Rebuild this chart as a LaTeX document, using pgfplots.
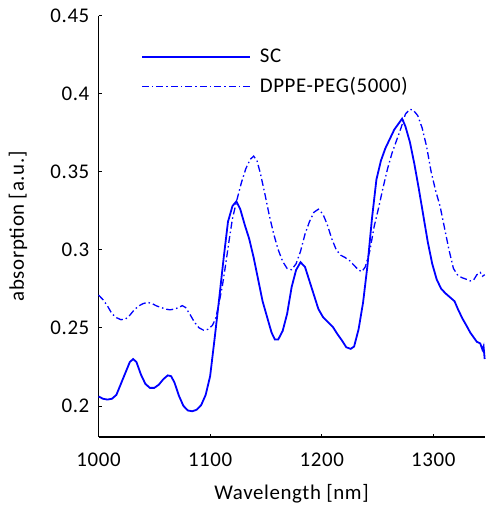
\documentclass[border=0pt]{standalone}
\usepackage{pgfplots}
\pgfplotsset{compat=1.18}
\usepackage{fontspec}
\setmainfont{Carlito}[LetterSpace=3]
\begin{document}
\fontsize{21}{25}\selectfont
\begin{tikzpicture}
\begin{axis}[
  scale only axis, width=386.4bp, height=421.6bp,
  xmin=1000, xmax=1346, ymin=0.18, ymax=0.45,
  axis x line=bottom, axis y line=left,
  axis line style={-, line width=1.3bp},
  xtick={1000,1100,1200,1300},
  ytick={0.2,0.25,0.3,0.35,0.4,0.45},
  yticklabels={0.2,0.25,0.3,0.35,0.4,0.45},
  tick style={black, line width=0.6bp}, major tick length=3bp, tick align=inside,
  /pgf/number format/assume math mode=true,
  /pgf/number format/1000 sep={},
  ticklabel style={font=\fontsize{21}{25}\selectfont},
  xticklabel style={yshift=-9bp},
  yticklabel style={xshift=-2bp},
  label style={font=\fontsize{21}{25}\selectfont},
  xlabel={Wavelength [nm]}, ylabel={absorption [a.u.]},
  xlabel style={at={(axis description cs:0.5,-0.1345)}, anchor=center},
  ylabel style={at={(axis description cs:-0.2086,0.5)}, anchor=center},
  legend style={at={(0.102,0.932)}, anchor=north west, draw=none, fill=none, font=\fontsize{21}{25}\selectfont, row sep=8bp, nodes={inner xsep=9bp}},
  legend cell align=left,
  legend image code/.code={\draw[#1] (0bp,0bp) -- (108bp,0bp);},
  clip=false,
]
\addplot[blue, line width=1.8bp] coordinates {
(1000,0.206)(1004,0.2045)(1008,0.2040)(1012,0.2045)(1016,0.207)(1020,0.214)(1024,0.221)(1028,0.228)(1031,0.230)(1034,0.228)(1038,0.220)(1042,0.214)(1046,0.2115)(1050,0.2115)(1054,0.2135)(1058,0.217)(1062,0.2195)(1065,0.219)(1068,0.215)(1072,0.2065)(1076,0.200)(1080,0.1970)(1084,0.1965)(1088,0.1975)(1092,0.2005)(1096,0.207)(1100,0.219)(1104,0.243)(1108,0.268)(1112,0.294)(1116,0.318)(1120,0.328)(1123.5,0.331)(1127,0.326)(1131,0.316)(1135,0.307)(1139,0.295)(1143,0.281)(1147,0.267)(1151,0.257)(1155,0.247)(1158,0.2425)(1161,0.2425)(1165,0.248)(1169,0.259)(1173,0.276)(1177,0.287)(1181,0.292)(1185,0.289)(1189,0.280)(1193,0.271)(1197,0.262)(1201,0.257)(1205,0.254)(1210,0.2505)(1214,0.246)(1218,0.242)(1222,0.2375)(1226,0.2365)(1229,0.238)(1233,0.249)(1237,0.266)(1241,0.290)(1245,0.320)(1249,0.345)(1253,0.357)(1257,0.365)(1261,0.371)(1265,0.377)(1269,0.381)(1272,0.384)(1275,0.379)(1279,0.369)(1283,0.355)(1287,0.339)(1291,0.322)(1295,0.305)(1299,0.291)(1303,0.281)(1307,0.275)(1311,0.272)(1315,0.2695)(1319,0.267)(1322,0.262)(1326,0.256)(1330,0.251)(1333,0.247)(1336,0.244)(1339,0.241)(1342,0.240)(1344,0.236)(1345,0.238)(1346,0.230)
};
\addlegendentry{SC}
\addplot[blue, line width=1.3bp, dash pattern=on 7bp off 3bp on 1.5bp off 3bp] coordinates {
(1000,0.271)(1004,0.268)(1008,0.264)(1012,0.259)(1016,0.2565)(1020,0.2552)(1024,0.2555)(1028,0.258)(1032,0.2615)(1036,0.264)(1040,0.2655)(1044,0.2663)(1048,0.2655)(1052,0.264)(1056,0.263)(1060,0.262)(1064,0.2615)(1068,0.262)(1072,0.263)(1075,0.2642)(1078,0.263)(1082,0.2585)(1086,0.2535)(1090,0.250)(1094,0.2485)(1098,0.249)(1102,0.2515)(1105,0.256)(1108,0.266)(1111,0.277)(1114,0.291)(1117,0.306)(1120,0.320)(1124,0.332)(1128,0.343)(1132,0.352)(1136,0.358)(1139,0.360)(1142,0.357)(1145,0.349)(1149,0.336)(1153,0.322)(1157,0.310)(1161,0.300)(1165,0.2925)(1169,0.288)(1173,0.2872)(1177,0.291)(1181,0.299)(1185,0.310)(1189,0.318)(1193,0.324)(1197,0.326)(1201,0.323)(1205,0.316)(1209,0.307)(1213,0.300)(1217,0.2965)(1221,0.295)(1225,0.293)(1229,0.290)(1233,0.287)(1236,0.286)(1239,0.289)(1243,0.299)(1247,0.315)(1251,0.327)(1255,0.340)(1259,0.352)(1263,0.362)(1267,0.370)(1271,0.378)(1275,0.387)(1279,0.390)(1282,0.3895)(1286,0.386)(1290,0.378)(1294,0.366)(1298,0.350)(1302,0.338)(1306,0.328)(1310,0.314)(1314,0.300)(1318,0.288)(1322,0.2835)(1326,0.282)(1330,0.281)(1333,0.280)(1336,0.2805)(1339,0.284)(1342,0.2855)(1344,0.283)(1346,0.284)
};
\addlegendentry{DPPE-PEG(5000)}
\end{axis}
\path (current axis.south west) ++(-98.6bp,-72.7bp) coordinate (bbsw);
\path (current axis.north east) ++(0bp,15.7bp) coordinate (bbne);
\path[use as bounding box] (bbsw) rectangle (bbne);
\end{tikzpicture}
\end{document}
